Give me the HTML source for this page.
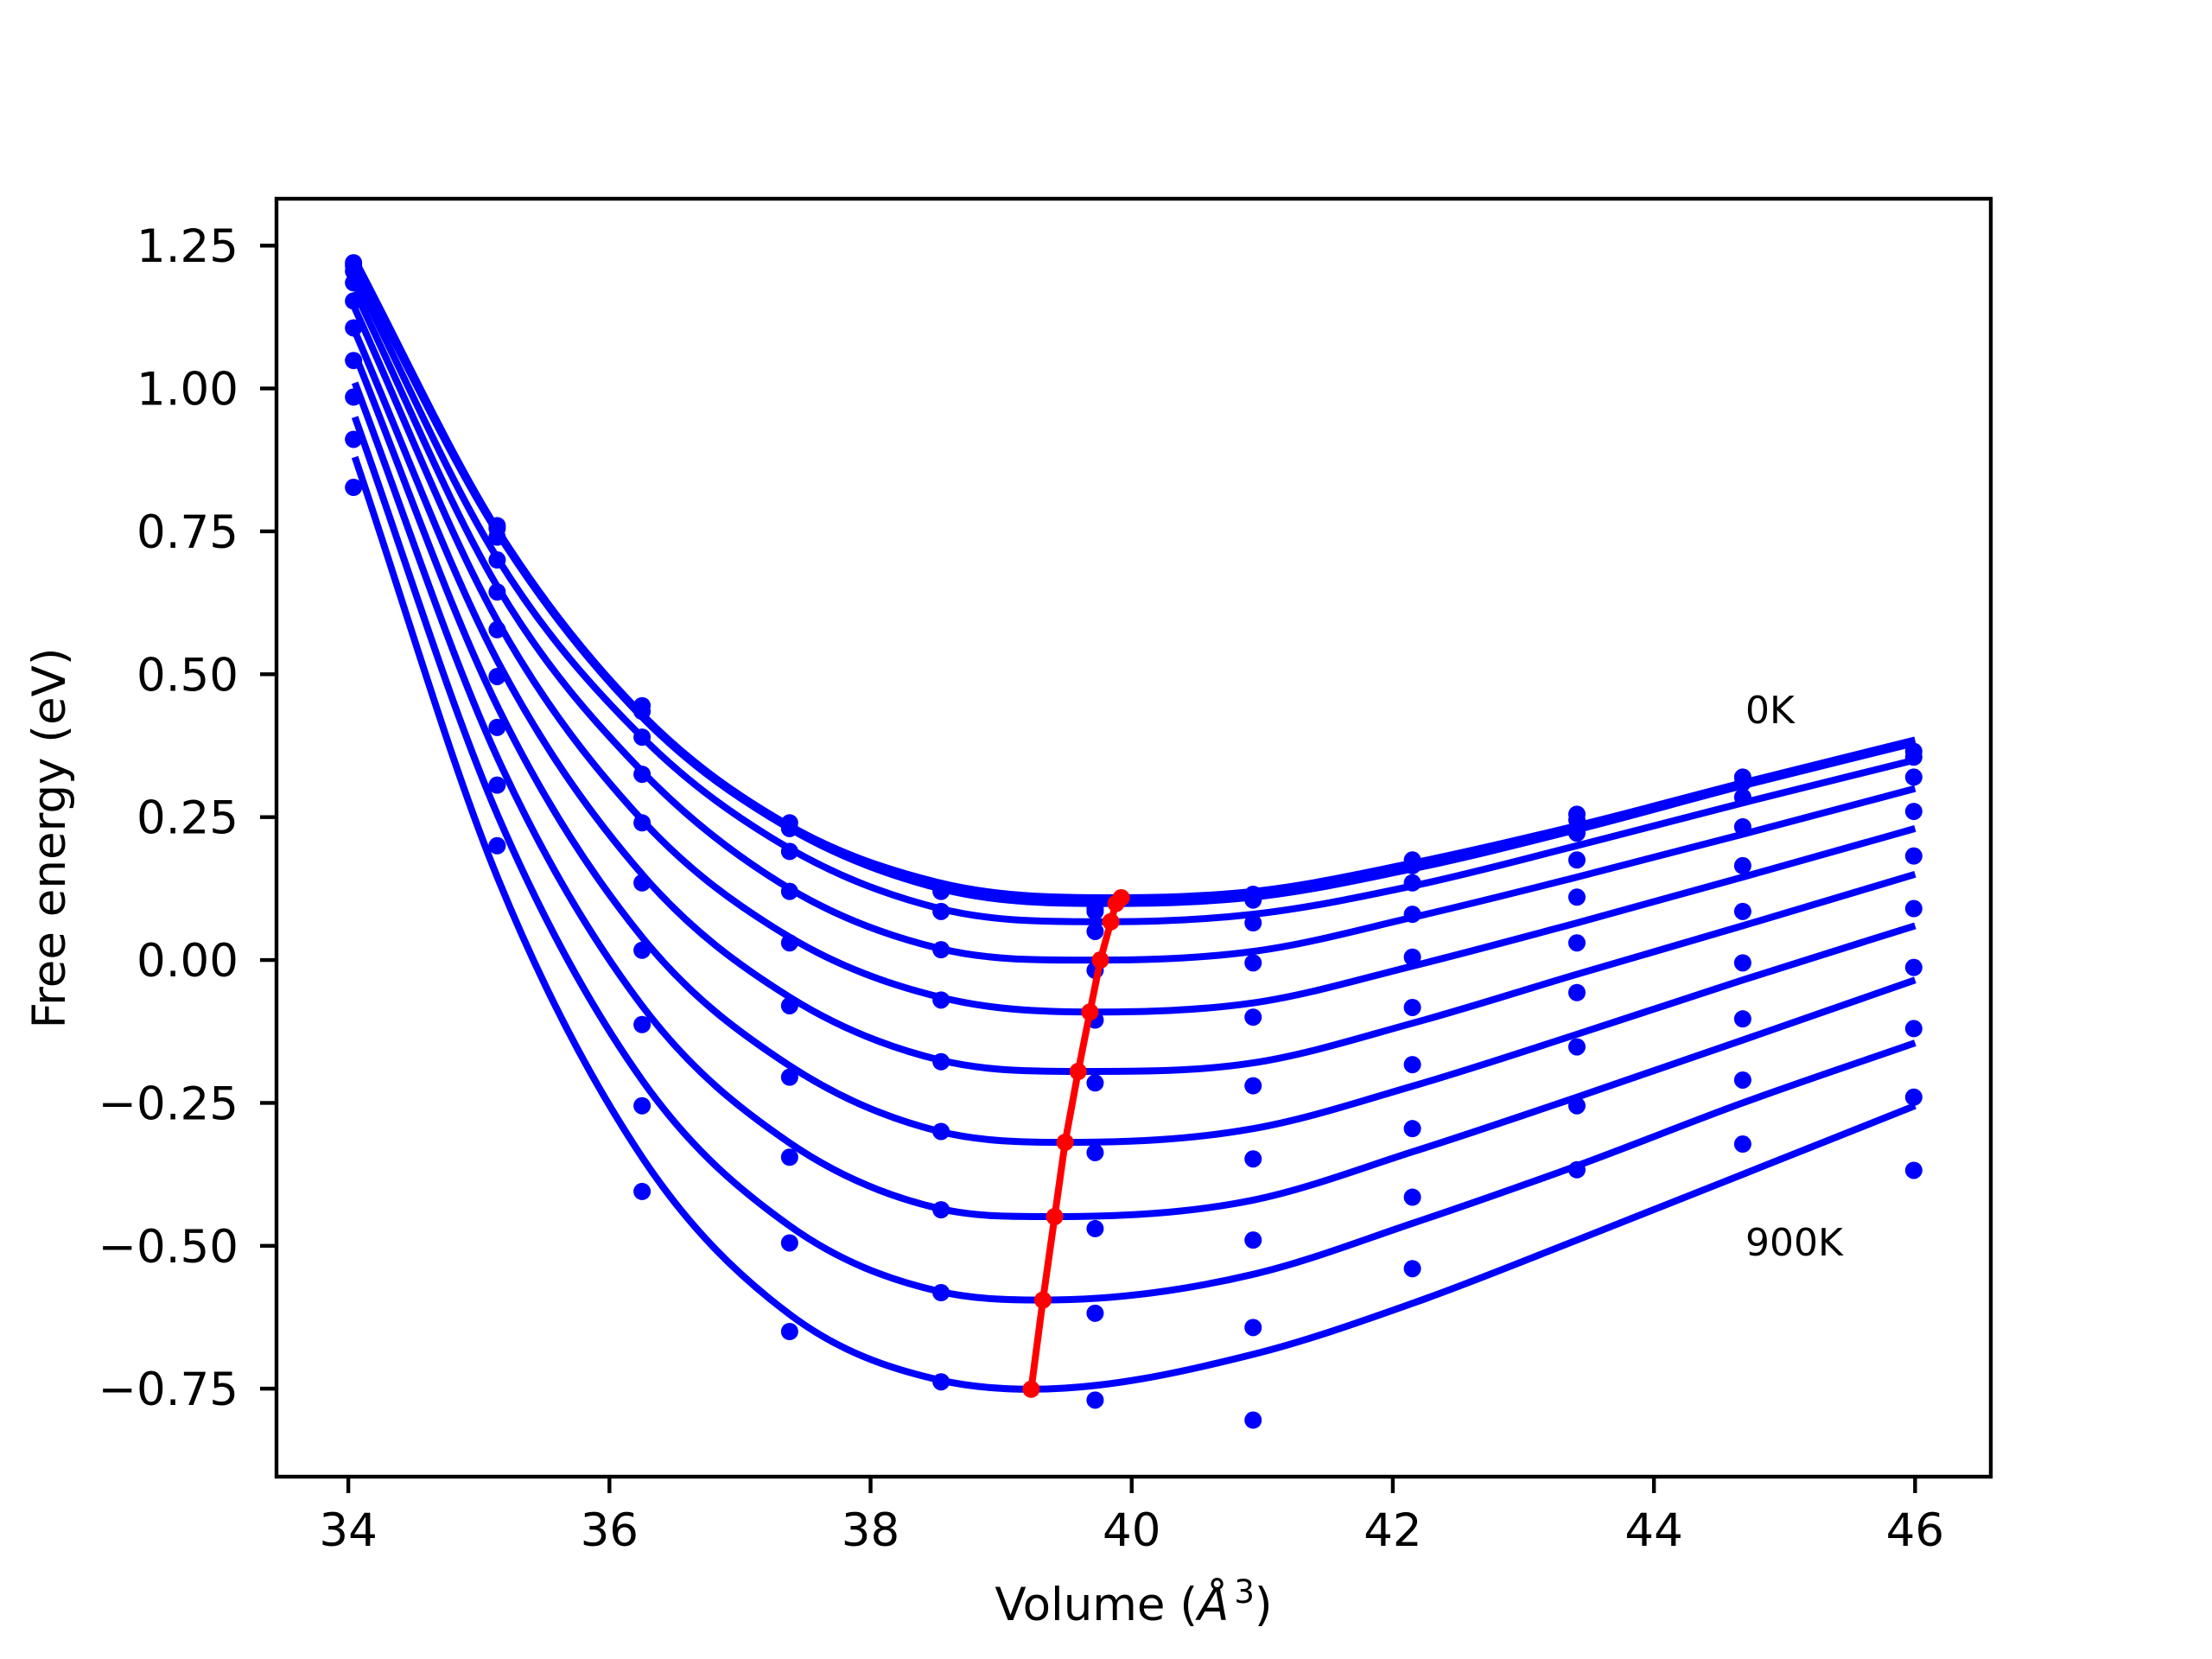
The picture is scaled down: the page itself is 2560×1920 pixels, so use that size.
<!DOCTYPE html>
<html><head><meta charset="utf-8"><style>
html,body{margin:0;padding:0;background:#fff}
svg{display:block}
text{font-family:"DejaVu Sans","Liberation Sans",sans-serif;fill:#000}
</style></head><body>
<svg id="chart" width="2560" height="1920" viewBox="0 0 2560 1920" xmlns="http://www.w3.org/2000/svg">
<rect x="0" y="0" width="2560" height="1920" fill="#fff"/>
<g id="plot"></g>
<g id="axes"></g>
<text x="2020" y="837" font-size="44">0K</text>
<text x="2020" y="1453" font-size="44">900K</text>
<text x="1312" y="1875" font-size="53" text-anchor="middle">Volume (<tspan font-style="italic">Å</tspan><tspan font-size="37" dx="6" dy="-20">3</tspan><tspan dy="20">)</tspan></text>
<text x="0" y="0" font-size="53" text-anchor="middle" transform="translate(75,970) rotate(-90)">Free energy (eV)</text>
</svg>
<script>
const volumes=[34.04,35.14,36.25,37.38,38.54,39.72,40.93,42.15,43.41,44.68,45.99];
const dots0=[1.22,0.76,0.445,0.24,0.125,0.09,0.115,0.175,0.255,0.32,0.365];
const dots1=[1.215,0.755,0.435,0.23,0.12,0.085,0.105,0.165,0.245,0.31,0.355];
const dots2=[1.205,0.74,0.39,0.19,0.085,0.05,0.065,0.135,0.222,0.285,0.32];
const dots3=[1.185,0.70,0.325,0.12,0.018,-0.018,-0.005,0.08,0.175,0.233,0.26];
const dots4=[1.153,0.644,0.24,0.03,-0.07,-0.105,-0.10,0.005,0.11,0.165,0.182];
const dots5=[1.106,0.578,0.135,-0.08,-0.178,-0.215,-0.22,-0.083,0.03,0.085,0.09];
const dots6=[1.049,0.496,0.017,-0.205,-0.30,-0.337,-0.348,-0.183,-0.057,-0.005,-0.013];
const dots7=[0.985,0.407,-0.113,-0.345,-0.437,-0.47,-0.49,-0.295,-0.152,-0.103,-0.12];
const dots8=[0.911,0.306,-0.255,-0.495,-0.582,-0.618,-0.643,-0.415,-0.255,-0.21,-0.24];
const dots9=[0.827,0.20,-0.405,-0.65,-0.738,-0.77,-0.805,-0.54,-0.367,-0.322,-0.368];
const fitVolumes=[34.05,35.15,36.25,37.38,38.53,40.93,42.16,43.41,44.68,46.0];
const fit0=[1.225,0.75,0.43,0.235,0.135,0.12,0.17,0.235,0.31,0.385];
const fit1=[1.215,0.745,0.425,0.23,0.125,0.11,0.16,0.228,0.305,0.38];
const fit2=[1.195,0.70,0.39,0.195,0.09,0.08,0.13,0.20,0.275,0.35];
const fit3=[1.17,0.65,0.33,0.125,0.02,0.015,0.075,0.145,0.22,0.30];
const fit4=[1.14,0.59,0.245,0.04,-0.065,-0.075,-0.01,0.065,0.145,0.23];
const fit5=[1.10,0.52,0.15,-0.065,-0.175,-0.18,-0.11,-0.025,0.06,0.15];
const fit6=[1.06,0.44,0.04,-0.185,-0.30,-0.295,-0.22,-0.13,-0.035,0.06];
const fit7=[1.01,0.35,-0.08,-0.32,-0.435,-0.42,-0.335,-0.24,-0.14,-0.035];
const fit8=[0.95,0.25,-0.21,-0.465,-0.58,-0.55,-0.46,-0.36,-0.25,-0.145];
const fit9=[0.88,0.14,-0.345,-0.62,-0.735,-0.69,-0.60,-0.49,-0.375,-0.255];
const minV=[39.92,39.88,39.84,39.76,39.68,39.59,39.49,39.41,39.32,39.23];
const minE=[0.109,0.099,0.067,0.0,-0.091,-0.195,-0.319,-0.449,-0.595,-0.751];
const xTicks=[34,36,38,40,42,44,46];
const xTickLabels=["34","36","38","40","42","44","46"];
const yTicks=[1.25,1.0,0.75,0.5,0.25,0,-0.25,-0.5,-0.75];
const yTickLabels=["1.25","1.00","0.75","0.50","0.25","0.00","\u22120.25","\u22120.50","\u22120.75"];

const AX={l:320,r:2304,t:230,b:1709};
const XD=[33.45,46.58], YD=[-0.904,1.332];
function sx(v){return AX.l+(v-XD[0])/(XD[1]-XD[0])*(AX.r-AX.l);}
function sy(e){return AX.b-(e-YD[0])/(YD[1]-YD[0])*(AX.b-AX.t);}
const NS="http://www.w3.org/2000/svg";
const plot=document.getElementById('plot'), axes=document.getElementById('axes');
function mk(tag,attrs,parent){const el=document.createElementNS(NS,tag);for(const k in attrs)el.setAttribute(k,attrs[k]);parent.appendChild(el);return el;}
// cubic Hermite through data points (x increasing), tangents from neighbouring differences
function hermitePath(pts,minIdx){
  const n=pts.length, m=[];
  for(let i=0;i<n;i++){
    if(i===minIdx){m.push(0);continue;}
    if(i===0) m.push((pts[1][1]-pts[0][1])/(pts[1][0]-pts[0][0]));
    else if(i===n-1) m.push((pts[n-1][1]-pts[n-2][1])/(pts[n-1][0]-pts[n-2][0]));
    else {
      const d1=(pts[i][1]-pts[i-1][1])/(pts[i][0]-pts[i-1][0]);
      const d2=(pts[i+1][1]-pts[i][1])/(pts[i+1][0]-pts[i][0]);
      const h1=pts[i][0]-pts[i-1][0], h2=pts[i+1][0]-pts[i][0];
      m.push((d1*h2+d2*h1)/(h1+h2));
    }
  }
  let d="M"+sx(pts[0][0]).toFixed(1)+","+sy(pts[0][1]).toFixed(1);
  for(let i=0;i<n-1;i++){
    const h=pts[i+1][0]-pts[i][0];
    const c1x=pts[i][0]+h/3, c1y=pts[i][1]+m[i]*h/3;
    const c2x=pts[i+1][0]-h/3, c2y=pts[i+1][1]-m[i+1]*h/3;
    d+=" C"+sx(c1x).toFixed(1)+","+sy(c1y).toFixed(1)+" "+sx(c2x).toFixed(1)+","+sy(c2y).toFixed(1)+" "+sx(pts[i+1][0]).toFixed(1)+","+sy(pts[i+1][1]).toFixed(1);
  }
  return d;
}
const dotSets=[dots0,dots1,dots2,dots3,dots4,dots5,dots6,dots7,dots8,dots9];
const fitSets=[fit0,fit1,fit2,fit3,fit4,fit5,fit6,fit7,fit8,fit9];
fitSets.forEach((f,i)=>{
  const pts=fitVolumes.map((v,j)=>[v,f[j]]);
  pts.push([minV[i],minE[i]]);
  pts.sort((a,b)=>a[0]-b[0]);
  const mi=pts.findIndex(q=>q[0]===minV[i]);
  const p=mk('path',{d:hermitePath(pts,mi),fill:'none',stroke:'#0000ff','stroke-width':8},plot);
  
  
});
dotSets.forEach((s,i)=>{
  s.forEach((e,j)=>{
    const c=mk('circle',{cx:sx(volumes[j]),cy:sy(e),r:10,fill:'#0000ff'},plot);
    
    
  });
});
const rl=mk('polyline',{points:minV.map((v,i)=>sx(v)+","+sy(minE[i])).join(" "),fill:'none',stroke:'#ff0000','stroke-width':8},plot);


minV.forEach((v,i)=>{
  const c=mk('circle',{cx:sx(v),cy:sy(minE[i]),r:10,fill:'#ff0000'},plot);
  
  
});
const fr=mk('rect',{x:AX.l,y:AX.t,width:AX.r-AX.l,height:AX.b-AX.t,fill:'none',stroke:'#000','stroke-width':4.4},axes);


xTicks.forEach((t,i)=>{
  const x=sx(t);
  const l=mk('line',{x1:x,x2:x,y1:AX.b,y2:AX.b+19,stroke:'#000','stroke-width':4.4},axes);
  
  
  const tx=mk('text',{x:x,y:AX.b+80,'font-size':53,'text-anchor':'middle'},axes);
  tx.textContent=xTickLabels[i];
  
  
});
yTicks.forEach((t,i)=>{
  const y=sy(t);
  const l=mk('line',{x1:AX.l-19,x2:AX.l,y1:y,y2:y,stroke:'#000','stroke-width':4.4},axes);
  
  
  const tx=mk('text',{x:AX.l-44,y:y+19,'font-size':53,'text-anchor':'end'},axes);
  tx.textContent=yTickLabels[i];
  
  
});
</script>
</body></html>
